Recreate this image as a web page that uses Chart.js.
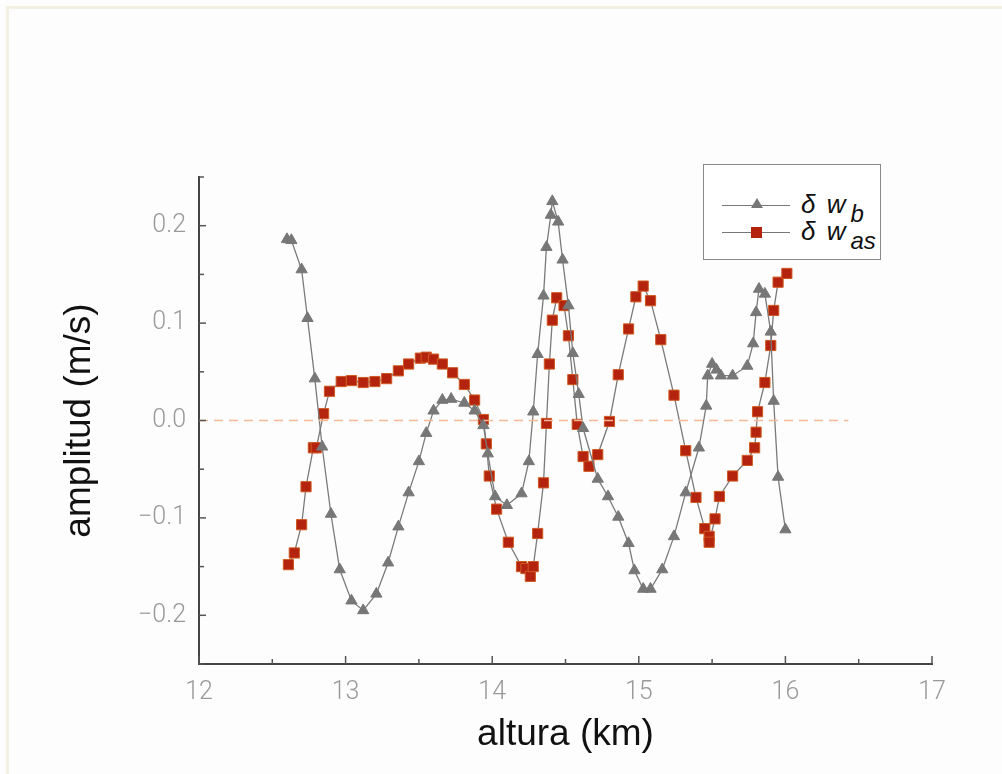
<!DOCTYPE html>
<html>
<head>
<meta charset="utf-8">
<script src="https://cdn.jsdelivr.net/npm/chart.js@4.4.1/dist/chart.umd.min.js"></script>
<style>
  body { margin: 0; background: #fdfdfd; }
  #wrap { position: relative; width: 1002px; height: 774px; }
  #frameTop { position: absolute; left: 6px; top: 6px; width: 996px; height: 3px; background: #f3f1e2; }
  #frameLeft { position: absolute; left: 6px; top: 6px; width: 3px; height: 768px; background: #f3f1e2; }
  #legend {
    position: absolute; left: 703px; top: 164px; width: 178px; height: 96px;
    border: 1px solid #8a8a8a; background: #fff; box-sizing: border-box;
    font-family: "Liberation Sans", Arial, sans-serif; font-style: italic; color: #111;
  }
  .row { position: absolute; left: 0; width: 100%; height: 30px; }
  .ln { position: absolute; left: 18px; width: 68px; top: 14px; height: 1px; background: #777; }
  .tri { position: absolute; left: 47px; top: 7px; width: 0; height: 0;
    border-left: 6px solid transparent; border-right: 6px solid transparent; border-bottom: 10px solid #777; }
  .sq { position: absolute; left: 47px; top: 9px; width: 11px; height: 11px; background: #b3230e; }
  .lab { position: absolute; left: 97px; top: -2px; font-size: 26px; line-height: 30px; white-space: nowrap; letter-spacing: 2px; }
  .lab sub { font-size: 24px; vertical-align: -9px; margin-left: 3px; letter-spacing: 0; }
</style>
</head>
<body>
<div id="wrap">
  <div id="frameTop"></div>
  <div id="frameLeft"></div>
  <canvas id="grafico" width="1002" height="774"></canvas>
  <div id="legend">
    <div class="row" style="top: 26px;"><div class="ln"></div><div class="tri"></div><div class="lab">δ w<sub>b</sub></div></div>
    <div class="row" style="top: 53px;"><div class="ln"></div><div class="sq"></div><div class="lab">δ w<sub>as</sub></div></div>
  </div>
</div>
<script>
// δw_b (triangulos)
const wbAltura = [12.60, 12.63, 12.70, 12.74, 12.79, 12.84, 12.90, 12.96, 13.04, 13.12,
  13.21, 13.29, 13.36, 13.43, 13.50, 13.55, 13.60, 13.66, 13.72, 13.81,
  13.88, 13.94, 13.97, 14.02, 14.10, 14.20, 14.25, 14.28, 14.31, 14.35,
  14.37, 14.40, 14.41, 14.45, 14.48, 14.52, 14.55, 14.59, 14.62, 14.72,
  14.79, 14.86, 14.93, 14.97, 15.03, 15.08, 15.16, 15.24, 15.32, 15.41,
  15.46, 15.47, 15.50, 15.53, 15.56, 15.64, 15.74, 15.78, 15.80, 15.82,
  15.86, 15.90, 15.92, 15.95, 16.00];
const wbAmp = [0.186, 0.185, 0.155, 0.105, 0.043, -0.027, -0.096, -0.153, -0.185, -0.195,
  -0.178, -0.146, -0.109, -0.074, -0.042, -0.013, 0.010, 0.021, 0.022, 0.018,
  0.010, -0.005, -0.034, -0.078, -0.087, -0.075, -0.042, 0.009, 0.068, 0.128,
  0.178, 0.211, 0.225, 0.204, 0.165, 0.118, 0.069, 0.027, -0.008, -0.060,
  -0.078, -0.099, -0.126, -0.154, -0.173, -0.173, -0.153, -0.119, -0.074, -0.028,
  0.015, 0.046, 0.058, 0.052, 0.046, 0.046, 0.056, 0.079, 0.111, 0.135,
  0.130, 0.091, 0.020, -0.058, -0.112];

// δw_as (cuadrados)
const wasAltura = [12.61, 12.65, 12.70, 12.73, 12.78, 12.80, 12.85, 12.89, 12.97, 13.04,
  13.12, 13.20, 13.28, 13.36, 13.43, 13.51, 13.55, 13.60, 13.66, 13.73,
  13.81, 13.88, 13.94, 13.96, 13.98, 14.03, 14.11, 14.20, 14.23, 14.26,
  14.28, 14.31, 14.35, 14.37, 14.39, 14.41, 14.44, 14.49, 14.52, 14.55,
  14.58, 14.62, 14.66, 14.72, 14.80, 14.86, 14.93, 14.98, 15.03, 15.08,
  15.15, 15.24, 15.32, 15.39, 15.45, 15.48, 15.48, 15.52, 15.55, 15.64,
  15.74, 15.79, 15.80, 15.81, 15.86, 15.90, 15.92, 15.95, 16.01];
const wasAmp = [-0.148, -0.136, -0.107, -0.068, -0.028, -0.028, 0.007, 0.030, 0.040, 0.041,
  0.039, 0.040, 0.043, 0.051, 0.058, 0.064, 0.065, 0.063, 0.058, 0.049,
  0.037, 0.021, 0.001, -0.024, -0.057, -0.091, -0.125, -0.150, -0.152, -0.160,
  -0.150, -0.116, -0.064, -0.003, 0.058, 0.103, 0.126, 0.118, 0.087, 0.042,
  -0.004, -0.037, -0.047, -0.035, -0.001, 0.047, 0.094, 0.127, 0.138, 0.123,
  0.083, 0.026, -0.031, -0.079, -0.111, -0.119, -0.125, -0.101, -0.078, -0.057,
  -0.041, -0.028, -0.012, 0.009, 0.039, 0.077, 0.113, 0.142, 0.151];

// linea de cero
const ceroAltura = [12, 16.43];
const ceroAmp = [0, 0];

const xTicks = [12, 13, 14, 15, 16, 17];
const yTicks = [-0.2, -0.1, 0.0, 0.1, 0.2];

function pares(xs, ys) {
  return xs.map((x, i) => ({ x: x, y: ys[i] }));
}

// marcas hacia dentro en los ejes
const marcasInternas = {
  id: 'marcasInternas',
  afterDraw(chart) {
    const ctx = chart.ctx;
    const xs = chart.scales.x;
    const ys = chart.scales.y;
    ctx.save();
    ctx.strokeStyle = '#555';
    ctx.lineWidth = 1.5;
    for (let v = 12; v <= 17.001; v += 0.5) {
      const px = xs.getPixelForValue(v);
      const len = Math.abs(v - Math.round(v)) < 0.01 ? 8 : 5;
      ctx.beginPath();
      ctx.moveTo(px, xs.top);
      ctx.lineTo(px, xs.top - len);
      ctx.stroke();
    }
    for (let i = -5; i <= 5; i++) {
      const v = i * 0.05;
      const py = ys.getPixelForValue(v);
      const len = i % 2 === 0 ? 7 : 5;
      ctx.beginPath();
      ctx.moveTo(ys.right, py);
      ctx.lineTo(ys.right + len, py);
      ctx.stroke();
    }
    ctx.restore();
  }
};

const tickFont = { family: 'Roboto, "Liberation Sans", sans-serif', size: 25, weight: '300' };
const titleFont = { family: '"Liberation Sans", Arial, sans-serif', size: 37 };

const ctx = document.getElementById('grafico').getContext('2d');
const grafico = new Chart(ctx, {
  type: 'scatter',
  data: {
    datasets: [
      {
        label: 'cero',
        data: pares(ceroAltura, ceroAmp),
        showLine: true,
        borderColor: '#f4b996',
        borderWidth: 1.5,
        borderDash: [9, 6],
        pointRadius: 0
      },
      {
        label: 'δw_b',
        data: pares(wbAltura, wbAmp),
        showLine: true,
        borderColor: '#7a7a7a',
        borderWidth: 1.3,
        pointStyle: 'triangle',
        pointRadius: 6.5,
        backgroundColor: '#777',
        pointBorderColor: '#777',
        pointBorderWidth: 1
      },
      {
        label: 'δw_as',
        data: pares(wasAltura, wasAmp),
        showLine: true,
        borderColor: '#7a7a7a',
        borderWidth: 1.3,
        pointStyle: 'rect',
        pointRadius: 7.2,
        backgroundColor: '#b3230e',
        pointBorderColor: '#cf5a22',
        pointBorderWidth: 1
      }
    ]
  },
  options: {
    responsive: false,
    animation: false,
    layout: { padding: { top: 177, right: 70, left: 0, bottom: 0 } },
    plugins: {
      legend: { display: false },
      tooltip: { enabled: false }
    },
    scales: {
      x: {
        type: 'linear',
        min: 12,
        max: 17,
        afterFit: (s) => { s.height = 110; },
        afterBuildTicks: (s) => { s.ticks = xTicks.map(v => ({ value: v })); },
        grid: { display: false, drawTicks: false },
        border: { display: true, color: '#444', width: 2 },
        ticks: { color: '#9a9a9a', font: tickFont, padding: 14, maxRotation: 0,
          callback: (v) => String(v) },
        title: { display: true, text: 'altura (km)', color: '#111', font: titleFont,
          padding: { top: 0, bottom: 17 } }
      },
      y: {
        type: 'linear',
        min: -0.25,
        max: 0.25,
        afterFit: (s) => { s.width = 199; },
        afterBuildTicks: (s) => { s.ticks = yTicks.map(v => ({ value: v })); },
        grid: { display: false, drawTicks: false },
        border: { display: true, color: '#444', width: 2 },
        ticks: { color: '#9a9a9a', font: tickFont, padding: 13,
          callback: (v) => (v < 0 ? '\u2212' : '') + Math.abs(v).toFixed(1) },
        title: { display: true, text: 'amplitud (m/s)', color: '#111', font: titleFont,
          padding: { top: 58, bottom: 0 } }
      }
    }
  },
  plugins: [marcasInternas]
});
</script>
</body>
</html>
